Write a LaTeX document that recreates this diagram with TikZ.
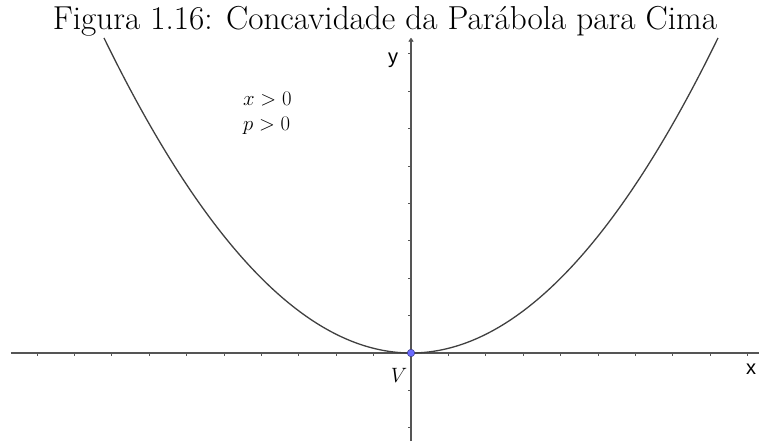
\documentclass[tikz,border=0pt]{standalone}
\usepackage{fontspec}
\newfontfamily\axfont{Liberation Sans}
\usetikzlibrary{arrows.meta}
\definecolor{curvecol}{HTML}{404040}
\definecolor{axiscol}{HTML}{555555}
\definecolor{ptcol}{HTML}{6B6BFF}
\tikzset{
  axisline/.style={draw=axiscol, line width=1.1pt},
  tickmark/.style={draw=axiscol, line width=0.9pt},
  curveline/.style={draw=curvecol, line width=1.3pt},
  axlabel/.style={font=\axfont\fontsize{20}{22}\selectfont, inner sep=0pt},
  mathlabel/.style={font=\fontsize{22.5}{24}\selectfont, inner sep=0pt},
}
\begin{document}
\begin{tikzpicture}[x=1pt,y=1pt]
\useasboundingbox (-411,-88) rectangle (348,353);
\def\u{37.4}
% title
\node[anchor=base, inner sep=0pt, font=\fontsize{33.2}{35}\selectfont] (title) at (-26,323) {Figura 1.16: Concavidade da Parábola para Cima};
% axes
\coordinate (xl) at (-400,0);
\coordinate (xr) at (348,0);
\coordinate (yb) at (0,-88);
\coordinate (yt) at (0,315);
\draw[axisline] (xl) -- (xr);
\draw[axisline, -{To[length=4pt,width=5pt]}] (yb) -- (yt);
\foreach \k in {-10,...,9} { \draw[tickmark] (\k*\u,0) -- (\k*\u,-3); }
\foreach \k in {-2,...,8} { \draw[tickmark] (0,\k*\u) -- (-3,\k*\u); }
% parabola
\draw[curveline] plot[domain=-307:307, samples=120, smooth] (\x,{0.05781*\x*0.05781*\x});
% vertex
\node[circle, fill=ptcol, draw=ptcol!50!black, line width=0.5pt, minimum size=7.5pt, inner sep=0pt] (V) at (0,0) {};
\node[mathlabel] (Vlab) at (-12,-22) {$V$};
% labels
\node[axlabel] (ylab) at (-18,293) {y};
\node[axlabel] (xlab) at (340,-16) {x};
\node[mathlabel, anchor=west] (c1) at (-168,254) {$x>0$};
\node[mathlabel, anchor=west] (c2) at (-168,227) {$p>0$};
\end{tikzpicture}
\end{document}
